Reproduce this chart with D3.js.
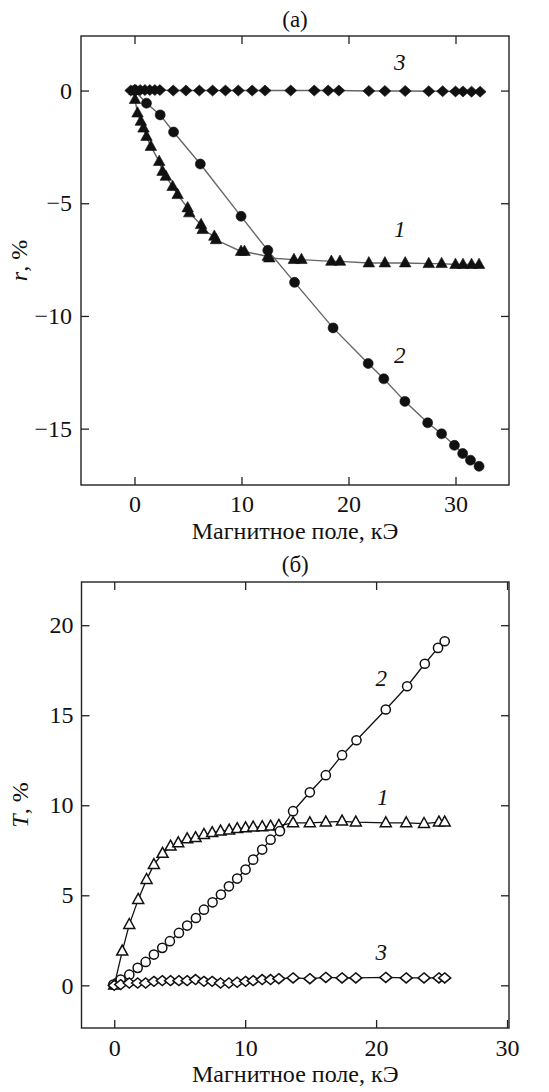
<!DOCTYPE html>
<html><head><meta charset="utf-8">
<script src="https://cdn.jsdelivr.net/npm/d3@7"></script>
<style>body{margin:0;background:#fff}svg{display:block}
svg text{font-family:"Liberation Serif","Times New Roman","DejaVu Serif",serif !important}</style>
</head><body>
<script>
// ---------- Data: panel (а), reflectance r, % ----------
const xA1 = [0,0.05,0.28,0.59,0.84,1.12,1.53,2.31,2.62,2.93,3.56,4.03,4.97,5.12,6.22,6.37,7.46,7.62,9.96,10.28,12.46,12.6,14.9,15.6,18.4,19.2,21.9,23.4,25.3,27.5,28.7,30.0,30.7,31.5,32.2];
const yA1 = [0,-0.4,-1.0,-1.37,-1.67,-2.04,-2.48,-3.15,-3.59,-3.81,-4.26,-4.62,-5.21,-5.43,-5.95,-6.17,-6.47,-6.62,-7.14,-7.14,-7.36,-7.43,-7.5,-7.5,-7.58,-7.58,-7.65,-7.65,-7.65,-7.68,-7.68,-7.72,-7.72,-7.72,-7.72];
const xA2 = [0,1.12,2.4,3.65,6.15,9.96,12.46,14.96,18.56,21.84,23.3,25.27,27.4,28.7,29.9,30.67,31.4,32.2];
const yA2 = [0,-0.56,-1.08,-1.84,-3.26,-5.58,-7.09,-8.51,-10.53,-12.11,-12.79,-13.79,-14.74,-15.23,-15.74,-16.1,-16.4,-16.67];
const xA3 = [-0.35,0.12,0.53,0.97,1.43,1.9,2.37,3.62,4.81,6.06,7.3,8.5,9.7,11.0,12.2,14.6,16.8,18.1,19.1,21.9,23.4,25.3,27.5,28.8,30.0,30.7,31.5,32.3];
const yA3 = [0,0.02,0.02,0.02,0.02,0.02,0.02,0,0,0,0,0,0,0,0,0,0,0,0,-0.02,-0.02,-0.02,-0.03,-0.03,-0.04,-0.04,-0.05,-0.05];

// ---------- Data: panel (б), transmittance T, % ----------
const xB1 = [0,0.61,1.15,1.83,2.47,3.03,3.69,4.3,4.89,5.57,6.21,6.85,7.48,8.12,8.78,9.39,10.03,10.61,11.3,11.94,12.57,13.66,14.94,16.16,17.4,18.45,20.74,22.3,23.66,24.8,25.24];
const yB1 = [0,1.89,3.37,4.76,5.87,6.7,7.32,7.72,7.91,8.13,8.19,8.37,8.47,8.56,8.61,8.69,8.74,8.78,8.8,8.83,8.87,9.02,9.02,9.06,9.11,9.06,9.02,9.02,8.98,9.06,9.06];
const xB2 = [-0.07,0.49,1.15,1.79,2.4,3.03,3.67,4.25,4.94,5.57,6.24,6.85,7.51,8.15,8.76,9.39,10.03,10.61,11.3,11.94,12.65,13.66,14.94,16.16,17.4,18.5,20.74,22.37,23.72,24.73,25.24];
const yB2 = [0.04,0.32,0.59,0.97,1.3,1.71,2.08,2.45,2.91,3.32,3.74,4.2,4.61,5.04,5.5,5.93,6.43,6.98,7.54,8.09,8.56,9.67,10.72,11.67,12.78,13.61,15.32,16.61,17.86,18.74,19.11];
const xB3 = [0,0.49,1.15,1.79,2.4,3.03,3.67,4.3,4.94,5.57,6.21,6.85,7.48,8.12,8.76,9.39,10.03,10.61,11.3,11.94,12.57,13.66,14.94,16.16,17.4,18.45,20.74,22.3,23.66,24.8,25.24];
const yB3 = [0,0.04,0.13,0.13,0.13,0.22,0.26,0.26,0.26,0.26,0.32,0.22,0.22,0.13,0.13,0.17,0.22,0.26,0.32,0.32,0.37,0.41,0.37,0.44,0.41,0.41,0.44,0.41,0.41,0.41,0.41];

const xTicksA = [0,10,20,30];
const yTicksA = [0,-5,-10,-15];
const xTicksB = [0,10,20,30];
const yTicksB = [0,5,10,15,20];
const xLabel = "Магнитное поле, кЭ";

const W = 549, H = 1092;
const FONT = "Liberation Serif";
const svg = d3.select("body").append("svg").attr("width", W).attr("height", H)
  .attr("font-family", FONT);

function zip(xs, ys){ return xs.map((x,i)=>[x, ys[i]]); }
function triPath(s){ const h = s*0.9; return `M0,${-h*0.62}L${s/2},${h*0.38}L${-s/2},${h*0.38}Z`; }
function diaPath(w,h){ return `M0,${-h/2}L${w/2},0L0,${h/2}L${-w/2},0Z`; }

function panel(cfg){
  const g = svg.append("g");
  const x = d3.scaleLinear().domain(cfg.xd).range([cfg.left, cfg.right]);
  const y = d3.scaleLinear().domain(cfg.yd).range([cfg.bottom, cfg.top]);
  const tick = 8;
  const fs = 24;
  g.append("g").attr("transform",`translate(0,${cfg.bottom})`)
    .call(d3.axisBottom(x).tickValues(cfg.xt).tickSizeInner(-tick).tickSizeOuter(0).tickPadding(cfg.xpad).tickFormat(d=>String(d)))
    .call(a=>{a.attr("font-family",FONT); a.select(".domain").remove(); a.selectAll("text").attr("font-size",fs).attr("fill","#111");});
  g.append("g").attr("transform",`translate(0,${cfg.top})`)
    .call(d3.axisTop(x).tickValues(cfg.xt).tickSizeInner(-tick).tickSizeOuter(0).tickFormat(""))
    .call(a=>a.select(".domain").remove());
  g.append("g").attr("transform",`translate(${cfg.left},0)`)
    .call(d3.axisLeft(y).tickValues(cfg.yt).tickSizeInner(-tick).tickSizeOuter(0).tickPadding(cfg.ypad).tickFormat(d=> d<0 ? "\u2212"+Math.abs(d) : String(d)))
    .call(a=>{a.attr("font-family",FONT); a.select(".domain").remove(); a.selectAll("text").attr("font-size",fs).attr("fill","#111");});
  g.append("g").attr("transform",`translate(${cfg.right},0)`)
    .call(d3.axisRight(y).tickValues(cfg.yt).tickSizeInner(-tick).tickSizeOuter(0).tickFormat(""))
    .call(a=>a.select(".domain").remove());
  g.selectAll(".tick line").attr("stroke","#222").attr("stroke-width",1.3);
  g.append("rect").attr("x",cfg.left).attr("y",cfg.top).attr("width",cfg.right-cfg.left).attr("height",cfg.bottom-cfg.top)
    .attr("fill","none").attr("stroke","#222").attr("stroke-width",1.4);

  const line = d3.line().x(d=>x(d[0])).y(d=>y(d[1]));
  cfg.series.forEach(s=>{
    g.append("path").datum(zip(s.x, s.y)).attr("d", line).attr("fill","none")
      .attr("stroke", cfg.lineColor).attr("stroke-width", cfg.lineWidth);
  });
  cfg.series.forEach(s=>{
    const pts = zip(s.x, s.y);
    const fill = cfg.filled ? "#111" : "#fff";
    const sel = g.selectAll(null).data(pts).enter();
    let m;
    if (s.shape === "circle") m = sel.append("circle").attr("cx",d=>x(d[0])).attr("cy",d=>y(d[1])).attr("r", cfg.filled?5:4.6);
    else if (s.shape === "tri") m = sel.append("path").attr("d", triPath(cfg.filled?11.5:11)).attr("transform",d=>`translate(${x(d[0])},${y(d[1])})`);
    else m = sel.append("path").attr("d", diaPath(12, cfg.filled?11:10)).attr("transform",d=>`translate(${x(d[0])},${y(d[1])})`);
    m.attr("fill", fill).attr("stroke","#111").attr("stroke-width", cfg.filled?0.6:1.5);
  });
  cfg.labels.forEach(l=>{
    g.append("text").attr("x", x(l.x)).attr("y", y(l.y)).attr("text-anchor","middle")
      .attr("font-size", 23).attr("font-style","italic").attr("fill","#111").text(l.t);
  });
  const cx = (cfg.left+cfg.right)/2;
  g.append("text").attr("x",cx).attr("y",cfg.titleY).attr("text-anchor","middle").attr("font-size",23).attr("fill","#111").text(cfg.title);
  g.append("text").attr("x",cx).attr("y",cfg.xlabY).attr("text-anchor","middle").attr("font-size",24).attr("fill","#111").text(xLabel);
  const yl = g.append("text").attr("transform",`translate(${cfg.ylabX},${(cfg.top+cfg.bottom)/2}) rotate(-90)`)
    .attr("text-anchor","middle").attr("font-size",24).attr("fill","#111");
  yl.append("tspan").attr("font-style","italic").text(cfg.ylab);
  yl.append("tspan").text(", %");
}

panel({
  left:81, right:509, top:36, bottom:485,
  xd:[-5,35], yd:[-17.5,2.42], xt:xTicksA, yt:yTicksA, xpad:10, ypad:9,
  filled:true, lineColor:"#666", lineWidth:1.4,
  series:[{x:xA1,y:yA1,shape:"tri"},{x:xA2,y:yA2,shape:"circle"},{x:xA3,y:yA3,shape:"dia"}],
  labels:[{x:24.8,y:0.9,t:"3"},{x:24.8,y:-6.5,t:"1"},{x:24.8,y:-12.1,t:"2"}],
  title:"(а)", titleY:27, xlabY:539, ylab:"r", ylabX:27
});
panel({
  left:81.5, right:509, top:582, bottom:1028,
  xd:[-2.5,30.15], yd:[-2.37,22.4], xt:xTicksB, yt:yTicksB, xpad:11, ypad:8,
  filled:false, lineColor:"#111", lineWidth:1.3,
  series:[{x:xB1,y:yB1,shape:"tri"},{x:xB2,y:yB2,shape:"circle"},{x:xB3,y:yB3,shape:"dia"}],
  labels:[{x:20.4,y:16.6,t:"2"},{x:20.5,y:10.0,t:"1"},{x:20.4,y:1.4,t:"3"}],
  title:"(б)", titleY:572, xlabY:1082, ylab:"T", ylabX:28
});
</script>
</body></html>
